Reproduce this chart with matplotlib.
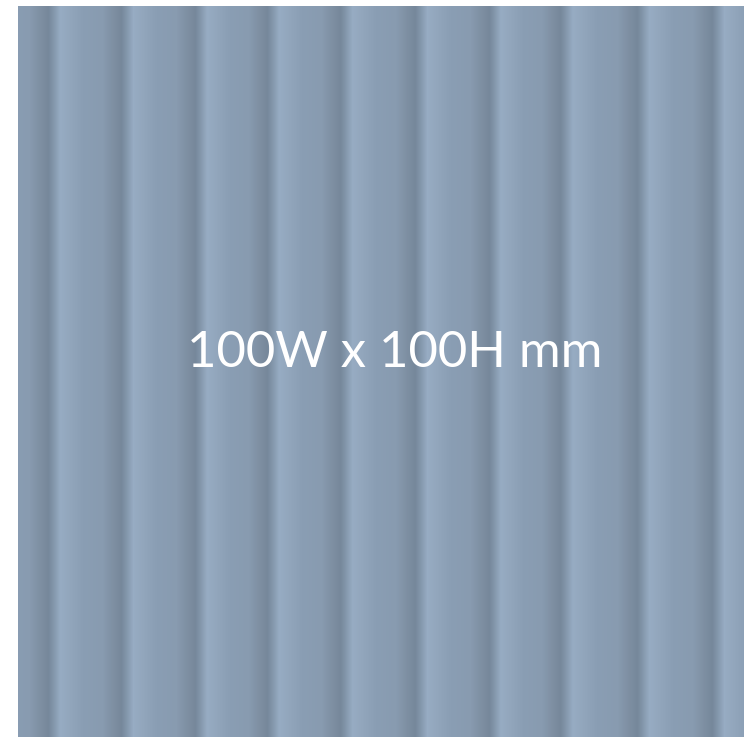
import numpy as np
import matplotlib.pyplot as plt

# panel size label
label = "100W x 100H mm"

# groove centres across the panel (pixels from panel left edge)
grooves = [30, 103, 177, 249, 322, 397, 471, 542, 619, 694]

# shading profile of one flute, offset from groove (px) and rgb
prof_off = [0, 4, 12, 22, 35, 55, 66, 74]
prof_r = [118, 128, 151, 146, 138, 136, 126, 118]
prof_g = [136, 147, 172, 166, 158, 155, 143, 136]
prof_b = [155, 167, 195, 188, 180, 176, 162, 155]

W, H = 726, 731

fig = plt.figure(figsize=(7.44, 7.37), dpi=100)
ax = fig.add_axes([18/744, 0, W/744, H/737])

cols = np.arange(W)
# offset of each column from the nearest groove on its left
g = np.array(grooves)
prev = np.array([g[g <= c].max() if (g <= c).any() else g[0] - 74 for c in cols])
nxt = np.array([g[g > c].min() if (g > c).any() else g[-1] + 74 for c in cols])
period = nxt - prev
off = (cols - prev) / period * prof_off[-1]

rgb = np.stack([np.interp(off, prof_off, prof_r),
                np.interp(off, prof_off, prof_g),
                np.interp(off, prof_off, prof_b)], axis=-1) / 255.0
img = np.repeat(rgb[None, :, :], H, axis=0)

ax.imshow(img, aspect='auto', interpolation='bilinear', extent=[0, W, H, 0])
ax.set_xlim(0, W)
ax.set_ylim(H, 0)
ax.axis('off')

ax.text(377, 347, label, color='white', fontsize=36.5, family='Lato',
        fontweight='normal', ha='center', va='center')

fig.savefig('out.png', dpi=100)
